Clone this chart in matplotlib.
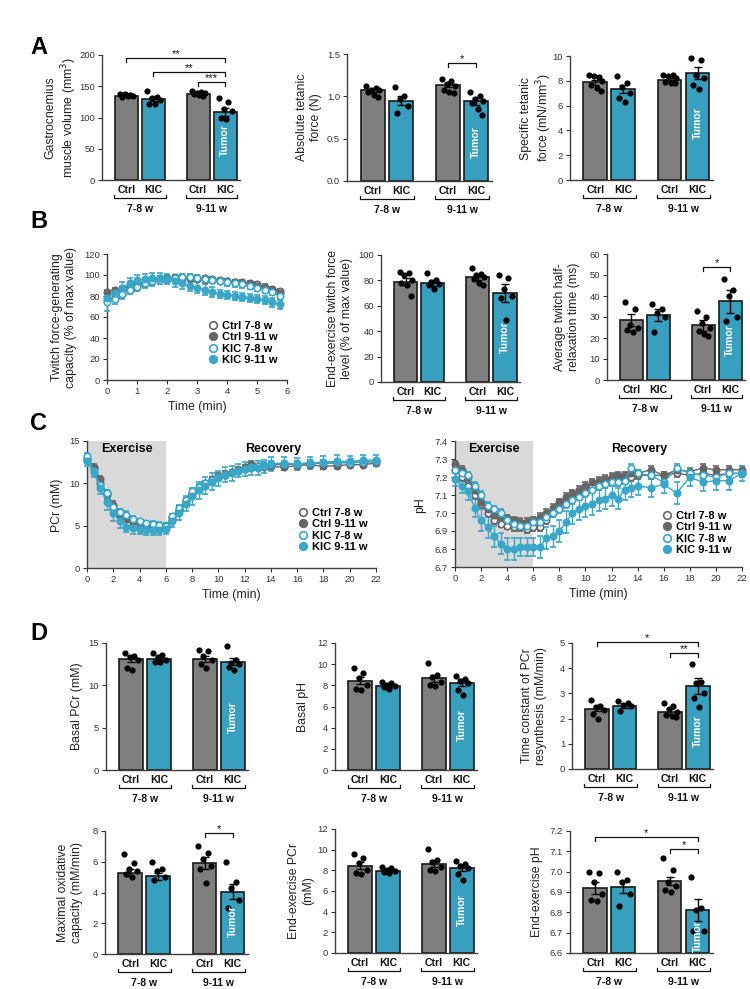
import numpy as np
import matplotlib
matplotlib.use('Agg')
import matplotlib.pyplot as plt
import matplotlib.transforms as mtransforms
from matplotlib.lines import Line2D

plt.rcParams['font.family'] = ['Liberation Sans', 'DejaVu Sans']

W, H = 750, 989
fig = plt.figure(figsize=(7.5, 9.89), dpi=100)

GRAY = '#7f7f7f'
TEAL = '#389fbf'
LGRAY = '#666666'
LTEAL = '#3aa6c8'
AXC = '#404040'

groups = ['Ctrl', 'KIC', 'Ctrl', 'KIC']
ages = ['7-8 w', '9-11 w']
series_labels = ['Ctrl 7-8 w', 'Ctrl 9-11 w', 'KIC 7-8 w', 'KIC 9-11 w']

# ---------------- Panel A data ----------------
volume_mean = [135, 130, 138, 109]
volume_sem = [1.2, 3.5, 1.2, 6.0]
volume_pts = [[137, 136, 138, 134, 133, 135], [142, 133, 131, 128, 122, 121],
              [143, 141, 140, 139, 138, 136, 135], [131, 125, 113, 110, 100, 97]]

abs_force_mean = [1.07, 0.95, 1.13, 0.94]
abs_force_sem = [0.02, 0.05, 0.025, 0.04]
abs_force_pts = [[1.12, 1.10, 1.08, 1.07, 1.05, 1.02, 0.99], [1.11, 1.00, 0.97, 0.88, 0.80],
                 [1.20, 1.18, 1.15, 1.12, 1.08, 1.05, 1.04], [1.05, 1.00, 0.97, 0.95, 0.92, 0.85, 0.78]]

spec_force_mean = [7.9, 7.35, 8.1, 8.65]
spec_force_sem = [0.2, 0.35, 0.12, 0.5]
spec_force_pts = [[8.5, 8.3, 8.4, 8.0, 7.7, 7.4, 7.2], [8.4, 7.8, 7.5, 7.0, 6.6, 6.3],
                  [8.5, 8.5, 8.4, 8.2, 7.9, 7.8, 7.8], [9.8, 9.7, 8.5, 8.2, 7.7, 7.3]]

# ---------------- Panel B data ----------------
twitch_t = [0, 0.25, 0.5, 0.75, 1.0, 1.25, 1.5, 1.75, 2.0, 2.25, 2.5, 2.75,
            3.0, 3.25, 3.5, 3.75, 4.0, 4.25, 4.5, 4.75, 5.0, 5.25, 5.5, 5.75]
twitch_ctrl78 = [76, 79, 82, 86, 89, 92, 94, 96, 97, 98, 98, 98, 97, 97, 96, 95, 94, 93, 93, 92, 91, 89, 87, 85]
twitch_ctrl911 = [84, 86, 87, 89, 91, 93, 95, 96, 96, 97, 97, 96, 96, 95, 95, 94, 94, 93, 92, 91, 90, 88, 86, 83]
twitch_kic78 = [74, 77, 82, 86, 89, 92, 94, 95, 96, 97, 98, 98, 97, 96, 95, 94, 93, 92, 91, 90, 88, 86, 84, 80]
twitch_kic911 = [78, 83, 88, 92, 95, 96, 97, 97, 96, 94, 92, 90, 88, 86, 84, 82, 81, 80, 79, 78, 77, 76, 74, 72]
twitch_err_ctrl78 = [3, 3, 3, 3, 3, 3, 3, 3, 2, 2, 2, 2, 2, 2, 2, 2, 2, 2, 2, 2, 2, 2, 2, 2]
twitch_err_ctrl911 = [2, 2, 2, 2, 2, 2, 2, 2, 2, 2, 2, 2, 2, 2, 2, 2, 2, 2, 2, 2, 2, 2, 2, 2]
twitch_err_kic78 = [8, 5, 5, 4, 4, 4, 4, 4, 4, 3, 3, 3, 3, 3, 3, 3, 3, 3, 3, 3, 3, 3, 3, 3]
twitch_err_kic911 = [5, 5, 5, 5, 5, 5, 5, 5, 5, 5, 5, 5, 5, 5, 5, 4, 4, 4, 4, 4, 4, 4, 4, 4]

end_twitch_mean = [79, 78, 82.5, 70]
end_twitch_sem = [3, 2.5, 2.0, 7]
end_twitch_pts = [[87, 86, 84, 80, 78, 76, 68], [86, 80, 79, 77, 76, 73],
                  [90, 85, 84, 83, 81, 78, 76], [84, 82, 73, 68, 66, 49]]

half_relax_mean = [28.5, 31, 26, 37.5]
half_relax_sem = [3, 3, 2.5, 5.5]
half_relax_pts = [[37, 34, 26, 25, 24, 23], [36, 34, 32, 30, 23],
                  [33, 30, 27, 25, 23.5, 22, 21], [48, 43, 40, 30, 28]]

# ---------------- Panel C data ----------------
mrs_t = [0, 0.5, 1, 1.5, 2, 2.5, 3, 3.5, 4, 4.5, 5, 5.5, 6, 6.5, 7, 7.5, 8, 8.5, 9, 9.5,
         10, 10.5, 11, 11.5, 12, 12.5, 13, 13.5, 14, 15, 16, 17, 18, 19, 20, 21, 22]
pcr_ctrl78 = [13.0, 11.8, 10.0, 8.8, 7.5, 6.6, 6.0, 5.6, 5.4, 5.2, 5.1, 5.0, 5.0, 6.0, 7.0, 7.9, 8.7, 9.4, 9.9,
              10.4, 10.7, 11.0, 11.3, 11.5, 11.7, 11.9, 12.0, 12.1, 12.2, 12.2, 12.3, 12.3, 12.4, 12.4, 12.5, 12.5, 12.6]
pcr_ctrl911 = [12.8, 11.9, 10.5, 8.6, 7.3, 6.3, 5.8, 5.4, 5.2, 5.1, 5.0, 5.0, 4.9, 5.8, 6.8, 8.0, 8.8, 9.5, 10.0,
               10.5, 10.9, 11.1, 11.3, 11.6, 11.9, 12.3, 12.0, 11.9, 12.0, 11.9, 12.1, 12.2, 12.0, 12.1, 12.2, 12.2, 12.4]
pcr_kic78 = [13.2, 11.5, 9.8, 8.8, 7.2, 6.6, 6.3, 5.8, 5.5, 5.3, 5.2, 5.1, 5.0, 6.1, 7.1, 8.0, 9.1, 9.6, 10.0,
             10.4, 10.7, 11.0, 11.3, 11.5, 11.7, 11.9, 12.0, 12.2, 12.3, 12.3, 12.3, 12.4, 12.4, 12.5, 12.4, 12.5, 12.6]
pcr_kic911 = [12.6, 11.3, 9.5, 7.8, 6.5, 5.5, 4.9, 4.7, 4.6, 4.5, 4.5, 4.5, 4.6, 5.5, 6.5, 7.6, 8.5, 9.2, 9.7,
              10.2, 10.6, 11.0, 11.2, 11.5, 11.7, 11.8, 11.8, 12.0, 12.3, 12.4, 12.3, 12.4, 12.5, 12.6, 12.6, 12.7, 12.8]
pcr_err_ctrl = [0.4, 0.4, 0.4, 0.4, 0.4, 0.4, 0.4, 0.4, 0.3, 0.3, 0.3, 0.3, 0.3, 0.3, 0.3, 0.3, 0.3, 0.3, 0.3,
                0.3, 0.3, 0.3, 0.3, 0.3, 0.3, 0.3, 0.3, 0.3, 0.3, 0.3, 0.3, 0.3, 0.3, 0.3, 0.3, 0.3, 0.3]
pcr_err_kic911 = [0.5, 0.6, 0.8, 0.9, 0.9, 0.8, 0.7, 0.7, 0.6, 0.6, 0.6, 0.6, 0.6, 0.7, 0.8, 0.9, 1.0, 1.0, 1.0,
                  1.0, 0.9, 0.9, 0.9, 0.8, 0.8, 0.8, 0.8, 0.8, 0.8, 0.7, 0.7, 0.7, 0.7, 0.7, 0.6, 0.6, 0.6]

ph_ctrl78 = [7.24, 7.20, 7.15, 7.10, 7.05, 7.00, 6.96, 6.94, 6.93, 6.92, 6.92, 6.91, 6.92, 6.92, 6.96, 7.00, 7.03,
             7.06, 7.09, 7.11, 7.13, 7.15, 7.17, 7.18, 7.19, 7.20, 7.19, 7.20, 7.21, 7.21, 7.21, 7.22, 7.21, 7.22, 7.21, 7.22, 7.22]
ph_ctrl911 = [7.27, 7.24, 7.20, 7.13, 7.06, 7.02, 6.99, 6.98, 6.97, 6.96, 6.95, 6.95, 6.96, 6.98, 7.00, 7.03, 7.06,
              7.09, 7.11, 7.13, 7.15, 7.17, 7.18, 7.19, 7.20, 7.21, 7.21, 7.22, 7.22, 7.24, 7.21, 7.24, 7.23, 7.25, 7.24, 7.24, 7.24]
ph_kic78 = [7.24, 7.22, 7.21, 7.15, 7.10, 7.04, 7.02, 7.00, 6.96, 6.94, 6.93, 6.93, 6.95, 6.95, 6.98, 7.00, 7.02,
            7.05, 7.07, 7.09, 7.11, 7.13, 7.15, 7.16, 7.17, 7.17, 7.18, 7.25, 7.22, 7.21, 7.17, 7.25, 7.22, 7.21, 7.20, 7.22, 7.22]
ph_kic911 = [7.19, 7.15, 7.12, 7.03, 6.96, 6.92, 6.87, 6.83, 6.80, 6.80, 6.81, 6.81, 6.81, 6.81, 6.86, 6.87, 6.90,
             6.95, 7.00, 7.02, 7.04, 7.05, 7.07, 7.08, 7.10, 7.08, 7.13, 7.14, 7.15, 7.14, 7.16, 7.11, 7.20, 7.17, 7.18, 7.18, 7.22]
ph_err_ctrl = [0.02, 0.02, 0.02, 0.02, 0.02, 0.02, 0.02, 0.02, 0.02, 0.02, 0.02, 0.02, 0.02, 0.02, 0.02, 0.02, 0.02,
               0.02, 0.02, 0.02, 0.02, 0.02, 0.02, 0.02, 0.02, 0.02, 0.02, 0.02, 0.02, 0.02, 0.02, 0.02, 0.02, 0.02, 0.02, 0.02, 0.02]
ph_err_kic911 = [0.04, 0.04, 0.05, 0.05, 0.06, 0.06, 0.06, 0.06, 0.06, 0.06, 0.05, 0.05, 0.05, 0.06, 0.06, 0.06, 0.06,
                 0.06, 0.06, 0.06, 0.06, 0.06, 0.06, 0.06, 0.06, 0.06, 0.06, 0.05, 0.05, 0.05, 0.05, 0.06, 0.05, 0.05, 0.05, 0.05, 0.04]

# ---------------- Panel D data ----------------
basal_pcr_mean = [13.15, 13.15, 13.1, 12.8]
basal_pcr_sem = [0.35, 0.2, 0.35, 0.45]
basal_pcr_pts = [[13.8, 13.5, 13.3, 13.0, 12.0, 11.8], [13.8, 13.6, 13.3, 13.0, 12.8, 12.7],
                 [14.2, 14.0, 13.5, 13.0, 12.5, 12.0], [14.6, 13.0, 12.6, 12.5, 12.2, 11.8]]

basal_ph_mean = [8.45, 7.95, 8.65, 8.25]
basal_ph_sem = [0.35, 0.12, 0.35, 0.35]
basal_ph_pts = [[9.6, 9.2, 8.7, 8.0, 7.7, 7.6], [8.3, 8.2, 8.0, 7.9, 7.8, 7.7],
                [10.1, 9.0, 8.8, 8.3, 8.0, 7.9], [8.9, 8.6, 8.4, 8.2, 7.6, 7.1]]

tc_pcr_mean = [2.4, 2.5, 2.27, 3.3]
tc_pcr_sem = [0.1, 0.07, 0.1, 0.32]
tc_pcr_pts = [[2.75, 2.5, 2.45, 2.35, 2.2, 2.0], [2.7, 2.6, 2.55, 2.5, 2.3],
              [2.6, 2.5, 2.4, 2.25, 2.15, 2.1, 2.05], [4.15, 3.45, 3.4, 3.0, 2.8, 2.45]]

max_ox_mean = [5.3, 5.05, 5.9, 4.05]
max_ox_sem = [0.22, 0.25, 0.38, 0.5]
max_ox_pts = [[6.5, 5.9, 5.5, 5.4, 5.2, 5.0], [6.0, 5.5, 5.4, 5.0, 4.8],
              [7.0, 6.6, 6.2, 5.7, 5.5, 4.6], [6.0, 4.7, 4.3, 3.5, 3.0]]

end_pcr_mean = [8.45, 7.95, 8.65, 8.25]
end_pcr_sem = [0.35, 0.12, 0.35, 0.35]
end_pcr_pts = [[9.6, 9.2, 8.7, 8.0, 7.7, 7.6], [8.3, 8.2, 8.0, 7.9, 7.8, 7.7],
               [10.1, 9.0, 8.8, 8.3, 8.0, 7.9], [8.9, 8.6, 8.4, 8.2, 7.6, 7.1]]

end_ph_mean = [6.92, 6.925, 6.955, 6.81]
end_ph_sem = [0.03, 0.03, 0.02, 0.055]
end_ph_pts = [[7.0, 6.995, 6.95, 6.89, 6.86, 6.855], [7.0, 6.96, 6.95, 6.89, 6.83],
              [7.065, 7.01, 6.95, 6.93, 6.91, 6.90], [6.975, 6.82, 6.81, 6.71, 6.71]]

# ---------------- helpers ----------------
XPOS = [0, 1, 2.65, 3.65]
JIT = [-0.22, 0.12, -0.05, 0.24, -0.15, 0.05, 0.2]


def px_ax(l, t, r, b):
    return fig.add_axes([l / W, 1 - b / H, (r - l) / W, (b - t) / H])


def style_axis(ax):
    for s in ['top', 'right']:
        ax.spines[s].set_visible(False)
    for s in ['left', 'bottom']:
        ax.spines[s].set_color(AXC)
        ax.spines[s].set_linewidth(1.0)
    ax.tick_params(axis='both', labelsize=6.8, colors='#333333', length=3, width=0.8, pad=2)


def ylabel_px(text, x, yc):
    fig.text(x / W, 1 - yc / H, text, rotation=90, ha='center', va='center',
             multialignment='center', fontsize=8.8, color='#222222')


def bar_panel(box, ylim, yticks, means, sems, pts, ylabel, ylab_x, tumor_y, sigs=(), ticklabels=None):
    l, t, r, b = box
    ax = px_ax(l, t, r, b)
    base = ylim[0]
    colors = [GRAY, TEAL, GRAY, TEAL]
    ax.bar(XPOS, [m - base for m in means], bottom=base, width=0.85, color=colors,
           edgecolor='#1a1a1a', linewidth=1.2, zorder=2)
    ax.errorbar(XPOS, means, yerr=sems, fmt='none', ecolor='black', elinewidth=1.0,
                capsize=3, capthick=1.0, zorder=3)
    for x, p in zip(XPOS, pts):
        ax.scatter([x + JIT[k] for k in range(len(p))], p, s=20, color='black', zorder=4,
                   clip_on=False, linewidths=0)
    ax.set_xlim(-0.9, 4.2)
    ax.set_ylim(*ylim)
    ax.set_yticks(yticks)
    if ticklabels is not None:
        ax.set_yticklabels(ticklabels)
    ax.set_xticks([])
    style_axis(ax)
    ylabel_px(ylabel, ylab_x, (t + b) / 2)
    tr = mtransforms.blended_transform_factory(ax.transData, fig.transFigure)
    for x, g in zip(XPOS, groups):
        ax.text(x, 1 - (b + 10) / H, g, transform=tr, ha='center', va='center',
                fontsize=7.6, fontweight='bold', color='#111111')
    for (x0, x1), a in zip([(XPOS[0], XPOS[1]), (XPOS[2], XPOS[3])], ages):
        yl = 1 - (b + 18) / H
        yt = 1 - (b + 15) / H
        ax.plot([x0 - 0.45, x0 - 0.45, x1 + 0.45, x1 + 0.45], [yt, yl, yl, yt], transform=tr,
                color='#111111', lw=0.9, clip_on=False)
        ax.text((x0 + x1) / 2, 1 - (b + 29) / H, a, transform=tr, ha='center', va='center',
                fontsize=7.5, fontweight='bold', color='#111111')
    trA = mtransforms.blended_transform_factory(ax.transData, ax.transAxes)
    ax.text(XPOS[3], tumor_y, 'Tumor', transform=trA, rotation=90, color='white',
            fontweight='bold', ha='center', va='center', fontsize=7.6, zorder=5)
    span = ylim[1] - ylim[0]
    d = 4.0 / (b - t) * span
    for i0, i1, yv, stars in sigs:
        ax.plot([XPOS[i0], XPOS[i0], XPOS[i1], XPOS[i1]], [yv - d, yv, yv, yv - d],
                color='#111111', lw=0.9, clip_on=False)
        ax.text((XPOS[i0] + XPOS[i1]) / 2, yv - 0.3 * d, stars, ha='center', va='bottom',
                fontsize=8, color='#111111', clip_on=False)
    return ax


STYLES = [(LGRAY, 'white'), (LGRAY, LGRAY), (LTEAL, 'white'), (LTEAL, LTEAL)]


def line_panel(box, t, ys, errs, xlim, ylim, xticks, yticks, yticklabels, leg_xy):
    l, tp, r, b = box
    ax = px_ax(l, tp, r, b)
    for y, e, (ec, fc) in zip(ys, errs, STYLES):
        ax.errorbar(t, y, yerr=e, color=ec, marker='o', mfc=fc, mec=ec, mew=1.2, ms=4.6,
                    lw=1.0, elinewidth=1.0, capsize=2.2, capthick=1.0, zorder=3, clip_on=False)
    ax.set_xlim(*xlim)
    ax.set_ylim(*ylim)
    ax.set_xticks(xticks)
    ax.set_yticks(yticks)
    ax.set_yticklabels(yticklabels)
    style_axis(ax)
    handles = [Line2D([], [], ls='none', marker='o', mfc=fc, mec=ec, mew=1.2, ms=5.5)
               for ec, fc in STYLES]
    ax.legend(handles, series_labels, loc='upper left', bbox_to_anchor=(leg_xy[0] / W, 1 - leg_xy[1] / H),
              bbox_transform=fig.transFigure, frameon=False, prop=dict(weight='bold', size=8),
              handlelength=0.7, handletextpad=0.5, labelspacing=0.12, borderpad=0, borderaxespad=0)
    fig.text((l + r) / 2 / W, 1 - (b + 27) / H, 'Time (min)', ha='center', va='center',
             fontsize=8.8, color='#222222')
    return ax


# ---------------- Panel letters ----------------
for letter, yc in [('A', 47), ('B', 222), ('C', 423), ('D', 633)]:
    fig.text(30 / W, 1 - yc / H, letter, fontsize=17, fontweight='bold', ha='left', va='center')

# ---------------- Panel A ----------------
bar_panel((102, 55, 240, 180), (0, 200), [0, 50, 100, 150, 200], volume_mean, volume_sem, volume_pts,
          'Gastrocnemius\nmuscle volume (mm$^3$)', 62, 0.32,
          sigs=[(0, 3, 195, '**'), (1, 3, 173, '**'), (2, 3, 157, '***')])
bar_panel((347, 54, 492, 181), (0, 1.5), [0, 0.5, 1.0, 1.5], abs_force_mean, abs_force_sem, abs_force_pts,
          'Absolute tetanic\nforce (N)', 309, 0.31, sigs=[(2, 3, 1.39, '*')],
          ticklabels=['0.0', '0.5', '1.0', '1.5'])
bar_panel((570, 56, 713, 180), (0, 10), [0, 2, 4, 6, 8, 10], spec_force_mean, spec_force_sem, spec_force_pts,
          'Specific tetanic\nforce (mN/mm$^3$)', 537, 0.46)

# ---------------- Panel B ----------------
axb = line_panel((107, 254, 287, 380), twitch_t,
                 [twitch_ctrl78, twitch_ctrl911, twitch_kic78, twitch_kic911],
                 [twitch_err_ctrl78, twitch_err_ctrl911, twitch_err_kic78, twitch_err_kic911],
                 (0, 6), (0, 120), [0, 1, 2, 3, 4, 5, 6], [0, 20, 40, 60, 80, 100, 120],
                 ['0', '20', '40', '60', '80', '100', '120'], (209, 321))
ylabel_px('Twitch force-generating\ncapacity (% of max value)', 64, 317)
bar_panel((381, 255, 520, 382), (0, 100), [0, 20, 40, 60, 80, 100], end_twitch_mean, end_twitch_sem, end_twitch_pts,
          'End-exercise twitch force\nlevel (% of max value)', 340, 0.35)
bar_panel((607, 254, 745, 380), (0, 60), [0, 10, 20, 30, 40, 50, 60], half_relax_mean, half_relax_sem, half_relax_pts,
          'Average twitch half-\nrelaxation time (ms)', 567, 0.32, sigs=[(2, 3, 54, '*')])

# ---------------- Panel C ----------------
axc1 = line_panel((87, 441, 376, 568), mrs_t, [pcr_ctrl78, pcr_ctrl911, pcr_kic78, pcr_kic911],
                  [pcr_err_ctrl, pcr_err_ctrl, pcr_err_ctrl, pcr_err_kic911],
                  (0, 22), (0, 15), list(range(0, 23, 2)), [0, 5, 10, 15], ['0', '5', '10', '15'], (299, 508))
axc1.axvspan(0, 6, color='#d9d9d9', zorder=0, lw=0)
ylabel_px('PCr (mM)', 57, 505)
axc1.text(127 / W, 1 - 449 / H, 'Exercise', transform=fig.transFigure, ha='center', va='center',
          fontsize=9, fontweight='bold')
axc1.text(273 / W, 1 - 449 / H, 'Recovery', transform=fig.transFigure, ha='center', va='center',
          fontsize=9, fontweight='bold')

axc2 = line_panel((455, 441, 742, 567), mrs_t, [ph_ctrl78, ph_ctrl911, ph_kic78, ph_kic911],
                  [ph_err_ctrl, ph_err_ctrl, ph_err_ctrl, ph_err_kic911],
                  (0, 22), (6.7, 7.4), list(range(0, 23, 2)),
                  [6.7, 6.8, 6.9, 7.0, 7.1, 7.2, 7.3, 7.4],
                  ['6.7', '6.8', '6.9', '7.0', '7.1', '7.2', '7.3', '7.4'], (663, 511))
axc2.axvspan(0, 6, color='#d9d9d9', zorder=0, lw=0)
ylabel_px('pH', 420, 505)
axc2.text(494 / W, 1 - 449 / H, 'Exercise', transform=fig.transFigure, ha='center', va='center',
          fontsize=9, fontweight='bold')
axc2.text(639 / W, 1 - 449 / H, 'Recovery', transform=fig.transFigure, ha='center', va='center',
          fontsize=9, fontweight='bold')

# ---------------- Panel D ----------------
bar_panel((106, 643, 248, 770), (0, 15), [0, 5, 10, 15], basal_pcr_mean, basal_pcr_sem, basal_pcr_pts,
          'Basal PCr (mM)', 77, 0.42)
bar_panel((335, 643, 477, 770), (0, 12), [0, 2, 4, 6, 8, 10, 12], basal_ph_mean, basal_ph_sem, basal_ph_pts,
          'Basal pH', 303, 0.35)
bar_panel((572, 643, 713, 769), (0, 5), [0, 1, 2, 3, 4, 5], tc_pcr_mean, tc_pcr_sem, tc_pcr_pts,
          'Time constant of PCr\nresynthesis (mM/min)', 534, 0.30,
          sigs=[(0, 3, 5.05, '*'), (2, 3, 4.6, '**')])
bar_panel((105, 831, 248, 954), (0, 8), [0, 2, 4, 6, 8], max_ox_mean, max_ox_sem, max_ox_pts,
          'Maximal oxidative\ncapacity (mM/min)', 70, 0.27, sigs=[(2, 3, 7.9, '*')])
bar_panel((335, 829, 477, 953), (0, 12), [0, 2, 4, 6, 8, 10, 12], end_pcr_mean, end_pcr_sem, end_pcr_pts,
          'End-exercise PCr\n(mM)', 301, 0.35)
bar_panel((570, 831, 713, 953), (6.6, 7.2), [6.6, 6.7, 6.8, 6.9, 7.0, 7.1, 7.2], end_ph_mean, end_ph_sem, end_ph_pts,
          'End-exercise pH', 537, 0.14, sigs=[(0, 3, 7.17, '*'), (2, 3, 7.11, '*')],
          ticklabels=['6.6', '6.7', '6.8', '6.9', '7.0', '7.1', '7.2'])

fig.savefig('out.png', dpi=100)
